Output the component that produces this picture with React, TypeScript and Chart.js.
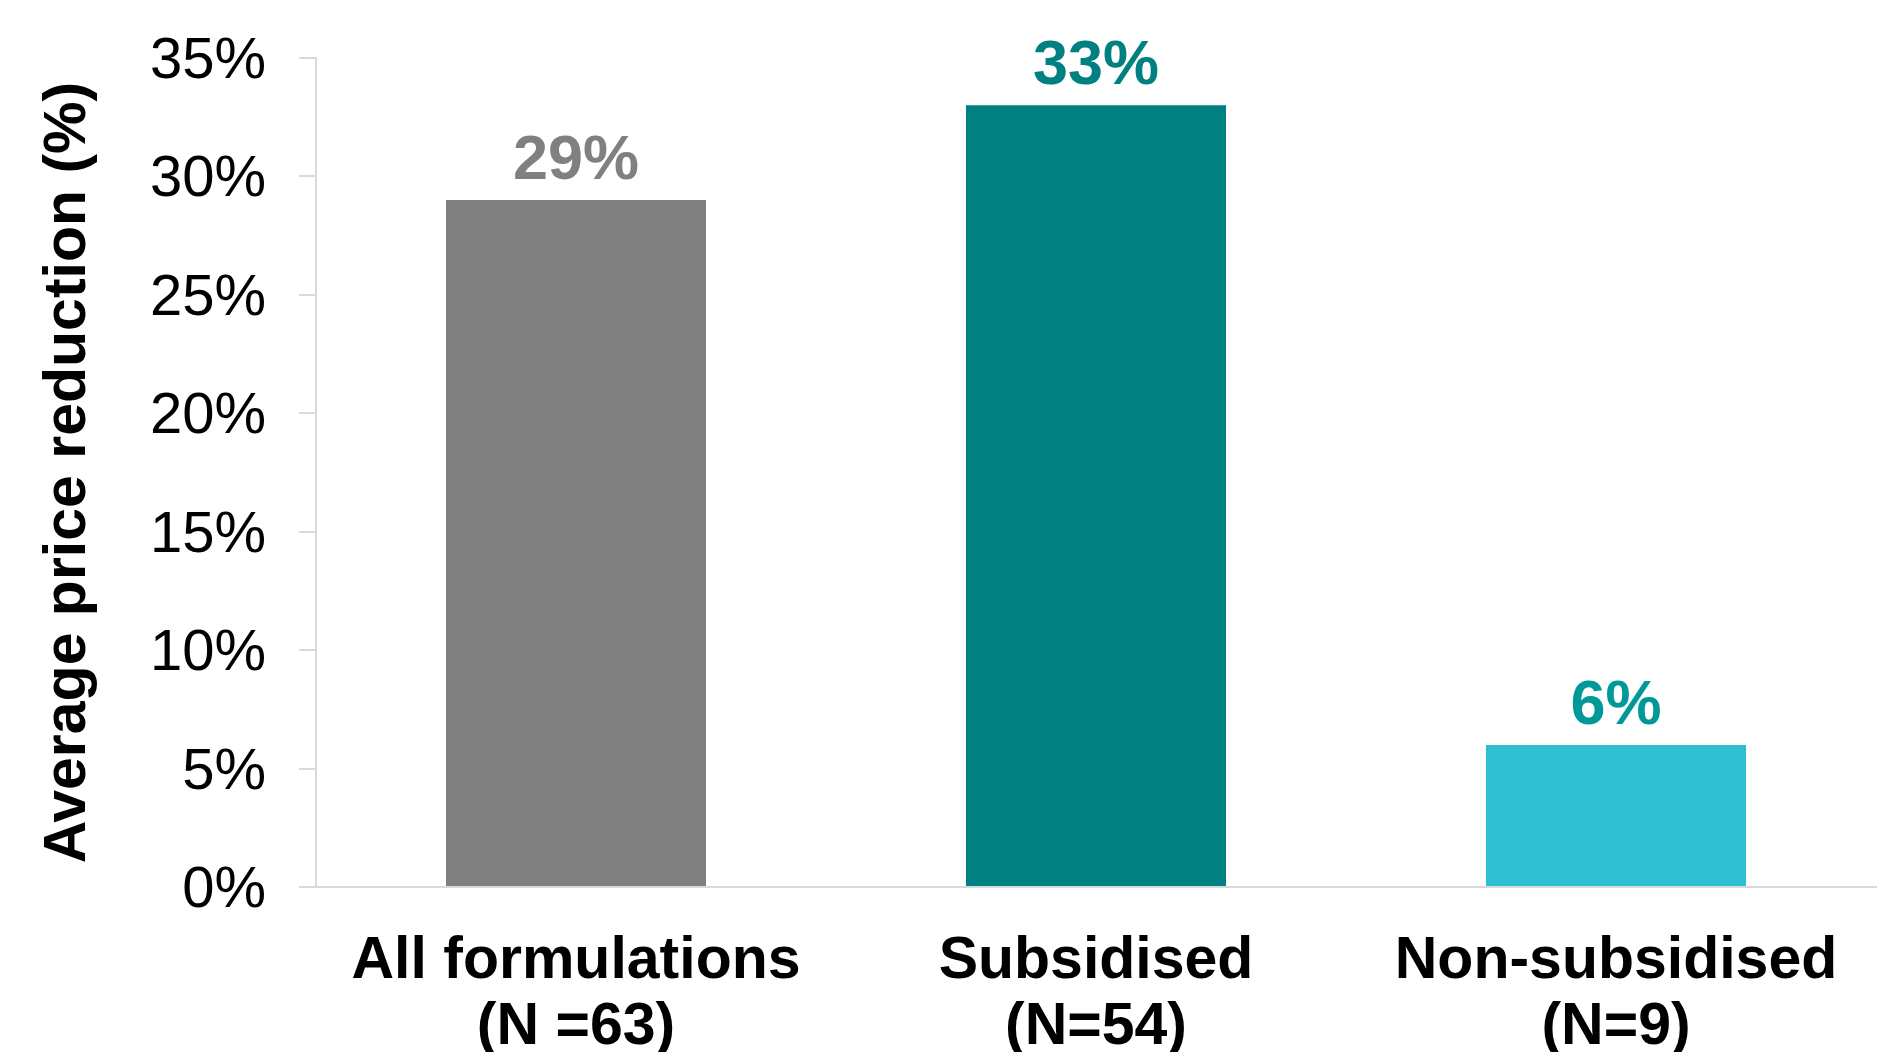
import React, { useEffect, useRef } from 'react';
import { Chart, registerables } from 'chart.js';

Chart.register(...registerables);

const categories: string[][] = [
  ['All formulations', '(N =63)'],
  ['Subsidised', '(N=54)'],
  ['Non-subsidised', '(N=9)'],
];
const values: number[] = [29, 33, 6];
const barColors: string[] = ['#808080', '#008080', '#2EBFD3'];
const labelColors: string[] = ['#808080', '#008080', '#009999'];
const yTicks: number[] = [0, 5, 10, 15, 20, 25, 30, 35];
const yTitle = 'Average price reduction (%)';

const W = 1892;
const H = 1100;
const PLOT_LEFT = 316;
const PLOT_TOP = 58;
const PLOT_RIGHT = 1876;
const PLOT_BOTTOM = 887;
const FONT = '"Liberation Sans", Arial, Helvetica, sans-serif';

const valueLabelPlugin = {
  id: 'valueLabels',
  afterDatasetsDraw(chart: any) {
    const ctx = chart.ctx;
    const meta = chart.getDatasetMeta(0);
    ctx.save();
    ctx.font = `bold 63px ${FONT}`;
    ctx.textAlign = 'center';
    ctx.textBaseline = 'alphabetic';
    meta.data.forEach((bar: any, i: number) => {
      ctx.fillStyle = labelColors[i];
      ctx.fillText(`${values[i]}%`, bar.x, bar.y - 21);
    });
    ctx.restore();
  },
};

export default function App() {
  const ref = useRef<HTMLCanvasElement | null>(null);

  useEffect(() => {
    if (!ref.current) return;
    const chart = new Chart(ref.current, {
      type: 'bar',
      data: {
        labels: categories,
        datasets: [
          {
            data: values,
            backgroundColor: barColors,
            borderWidth: 0,
            barPercentage: 0.5,
            categoryPercentage: 1.0,
          },
        ],
      },
      options: {
        responsive: false,
        animation: false,
        devicePixelRatio: 1,
        layout: {
          padding: { top: PLOT_TOP, right: W - PLOT_RIGHT, left: 0, bottom: 0 },
        },
        plugins: {
          legend: { display: false },
          tooltip: { enabled: false },
        },
        scales: {
          x: {
            grid: { display: false, drawTicks: false },
            border: { display: true, color: '#d9d9d9', width: 2 },
            ticks: {
              color: '#000',
              font: { family: FONT, size: 59, weight: 'bold', lineHeight: 1.12 },
              padding: 42,
              maxRotation: 0,
              minRotation: 0,
              autoSkip: false,
            },
            afterFit: (s: any) => {
              s.height = H - PLOT_BOTTOM;
              s.paddingLeft = 0;
              s.paddingRight = 0;
            },
          },
          y: {
            min: 0,
            max: 35,
            afterBuildTicks: (s: any) => {
              s.ticks = yTicks.map((v) => ({ value: v }));
            },
            grid: {
              drawOnChartArea: false,
              drawTicks: true,
              tickLength: 17,
              color: '#d9d9d9',
              lineWidth: 2,
            },
            border: { display: true, color: '#d9d9d9', width: 2 },
            ticks: {
              color: '#000',
              font: { family: FONT, size: 58 },
              padding: 33,
              labelOffset: 4,
              callback: (v: any) => `${v}%`,
            },
            title: {
              display: true,
              text: yTitle,
              color: '#000',
              font: { family: FONT, size: 59, weight: 'bold', lineHeight: 1.2 },
              padding: { top: 33, bottom: 0 },
            },
            afterFit: (s: any) => {
              s.width = PLOT_LEFT;
              s.paddingTop = 0;
              s.paddingBottom = 0;
            },
          },
        },
      },
      plugins: [valueLabelPlugin],
    });
    return () => chart.destroy();
  }, []);

  return (
    <div style={{ position: 'absolute', left: 0, top: 0, width: W, height: H, background: '#fff' }}>
      <canvas ref={ref} width={W} height={H} style={{ width: W, height: H, display: 'block' }} />
    </div>
  );
}
